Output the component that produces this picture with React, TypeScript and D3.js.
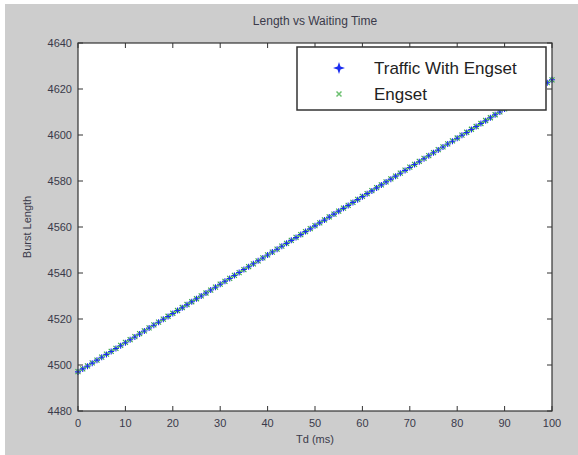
import React from "react";
import { scaleLinear } from "d3";

// Td (ms) sample points
const tdValues = [
  0, 1, 2, 3, 4, 5, 6, 7, 8, 9, 10, 11, 12, 13, 14, 15, 16, 17, 18, 19, 20,
  21, 22, 23, 24, 25, 26, 27, 28, 29, 30, 31, 32, 33, 34, 35, 36, 37, 38, 39, 40,
  41, 42, 43, 44, 45, 46, 47, 48, 49, 50, 51, 52, 53, 54, 55, 56, 57, 58, 59, 60,
  61, 62, 63, 64, 65, 66, 67, 68, 69, 70, 71, 72, 73, 74, 75, 76, 77, 78, 79, 80,
  81, 82, 83, 84, 85, 86, 87, 88, 89, 90, 91, 92, 93, 94, 95, 96, 97, 98, 99, 100,
];

// burst length, traffic with engset
const trafficLength = [
  4497.0, 4498.3, 4499.5, 4500.8, 4502.1, 4503.4, 4504.6, 4505.9, 4507.2, 4508.4,
  4509.7, 4511.0, 4512.2, 4513.5, 4514.8, 4516.1, 4517.3, 4518.6, 4519.9, 4521.1,
  4522.4, 4523.7, 4524.9, 4526.2, 4527.5, 4528.8, 4530.0, 4531.3, 4532.6, 4533.8,
  4535.1, 4536.4, 4537.6, 4538.9, 4540.2, 4541.5, 4542.7, 4544.0, 4545.3, 4546.5,
  4547.8, 4549.1, 4550.3, 4551.6, 4552.9, 4554.2, 4555.4, 4556.7, 4558.0, 4559.2,
  4560.5, 4561.8, 4563.0, 4564.3, 4565.6, 4566.9, 4568.1, 4569.4, 4570.7, 4571.9,
  4573.2, 4574.5, 4575.7, 4577.0, 4578.3, 4579.6, 4580.8, 4582.1, 4583.4, 4584.6,
  4585.9, 4587.2, 4588.4, 4589.7, 4591.0, 4592.3, 4593.5, 4594.8, 4596.1, 4597.3,
  4598.6, 4599.9, 4601.1, 4602.4, 4603.7, 4605.0, 4606.2, 4607.5, 4608.8, 4610.0,
  4611.3, 4612.6, 4613.8, 4615.1, 4616.4, 4617.7, 4618.9, 4620.2, 4621.5, 4622.7,
  4624.0,
];

// engset alone lies under the blue markers
const engsetLength = [
  4497.1, 4498.3, 4499.6, 4500.9, 4502.1, 4503.4, 4504.7, 4505.9, 4507.2, 4508.5,
  4509.8, 4511.0, 4512.3, 4513.6, 4514.8, 4516.1, 4517.4, 4518.6, 4519.9, 4521.2,
  4522.5, 4523.7, 4525.0, 4526.3, 4527.5, 4528.8, 4530.1, 4531.3, 4532.6, 4533.9,
  4535.2, 4536.4, 4537.7, 4539.0, 4540.2, 4541.5, 4542.8, 4544.0, 4545.3, 4546.6,
  4547.9, 4549.1, 4550.4, 4551.7, 4552.9, 4554.2, 4555.5, 4556.7, 4558.0, 4559.3,
  4560.6, 4561.8, 4563.1, 4564.4, 4565.6, 4566.9, 4568.2, 4569.4, 4570.7, 4572.0,
  4573.3, 4574.5, 4575.8, 4577.1, 4578.3, 4579.6, 4580.9, 4582.1, 4583.4, 4584.7,
  4586.0, 4587.2, 4588.5, 4589.8, 4591.0, 4592.3, 4593.6, 4594.8, 4596.1, 4597.4,
  4598.7, 4599.9, 4601.2, 4602.5, 4603.7, 4605.0, 4606.3, 4607.5, 4608.8, 4610.1,
  4611.4, 4612.6, 4613.9, 4615.2, 4616.4, 4617.7, 4619.0, 4620.2, 4621.5, 4622.8,
  4624.0,
];

const xTicks = [0, 10, 20, 30, 40, 50, 60, 70, 80, 90, 100];
const yTicks = [4480, 4500, 4520, 4540, 4560, 4580, 4600, 4620, 4640];
const legendLabels = ["Traffic With Engset", "Engset"];

const W = 578;
const H = 455;
const left = 78, right = 552, top = 43, bottom = 411;
const font = "Liberation Sans, Arial, sans-serif";
const axisColor = "#333";
const textColor = "#3a3a4a";

const App = () => {
  const x = scaleLinear().domain([0, 100]).range([left, right]);
  const y = scaleLinear().domain([4480, 4640]).range([bottom, top]);
  const tk = 5;

  return (
    <div style={{ position: "absolute", left: 0, top: 0 }}>
      <svg width={W} height={H} style={{ display: "block" }}>
        <rect x={0} y={0} width={W} height={H} fill="#fff" />
        <rect x={5} y={4} width={W - 5} height={H - 4} fill="#cdcdcd" />
        <rect x={left} y={top} width={right - left} height={bottom - top} fill="#fff" />

        <text x={(left + right) / 2} y={25} textAnchor="middle" fontFamily={font} fontSize={12} fill={textColor}>
          Length vs Waiting Time
        </text>

        {/* engset markers (x) */}
        <g stroke="#3aa84a" strokeWidth={1.1}>
          {tdValues.map((t, i) => {
            const cx = x(t), cy = y(engsetLength[i]);
            return (
              <path key={i} d={`M${cx - 2.5},${cy - 2.5}L${cx + 2.5},${cy + 2.5}M${cx - 2.5},${cy + 2.5}L${cx + 2.5},${cy - 2.5}`} />
            );
          })}
        </g>
        {/* traffic with engset markers (+) */}
        <g stroke="#1a2cf0" strokeWidth={1.1}>
          {tdValues.map((t, i) => {
            const cx = x(t), cy = y(trafficLength[i]);
            return <path key={i} d={`M${cx - 3},${cy}L${cx + 3},${cy}M${cx},${cy - 3}L${cx},${cy + 3}`} />;
          })}
        </g>

        {/* ticks on all sides */}
        <g stroke={axisColor} strokeWidth={1}>
          {xTicks.map((t) => (
            <g key={t}>
              <line x1={x(t)} x2={x(t)} y1={bottom} y2={bottom - tk} />
              <line x1={x(t)} x2={x(t)} y1={top} y2={top + tk} />
            </g>
          ))}
          {yTicks.map((t) => (
            <g key={t}>
              <line x1={left} x2={left + tk} y1={y(t)} y2={y(t)} />
              <line x1={right} x2={right - tk} y1={y(t)} y2={y(t)} />
            </g>
          ))}
        </g>
        <rect x={left} y={top} width={right - left} height={bottom - top} fill="none" stroke={axisColor} strokeWidth={1.2} />

        <g fontFamily={font} fontSize={11} fill={textColor}>
          {xTicks.map((t) => (
            <text key={t} x={x(t)} y={bottom + 16} textAnchor="middle">{t}</text>
          ))}
          {yTicks.map((t) => (
            <text key={t} x={left - 6} y={y(t) + 4} textAnchor="end">{t}</text>
          ))}
        </g>

        <text x={(left + right) / 2} y={443} textAnchor="middle" fontFamily={font} fontSize={11} fill={textColor}>
          Td (ms)
        </text>
        <text transform={`translate(31,${(top + bottom) / 2}) rotate(-90)`} textAnchor="middle" fontFamily={font} fontSize={11} fill={textColor}>
          Burst Length
        </text>

        {/* legend */}
        <g>
          <rect x={297} y={47} width={249} height={63} fill="#fff" stroke="#333" strokeWidth={1.5} />
          {legendLabels.map((lab, i) => {
            const ly = 68 + i * 26;
            return (
              <g key={lab}>
                {i === 0 ? (
                  <path
                    d={`M${339 - 6},${ly}L${339 - 1.5},${ly - 1.5}L339,${ly - 6}L${339 + 1.5},${ly - 1.5}L${339 + 6},${ly}L${339 + 1.5},${ly + 1.5}L339,${ly + 6}L${339 - 1.5},${ly + 1.5}Z`}
                    fill="#1a2cf0"
                  />
                ) : (
                  <path d={`M336.5,${ly - 2.5}L341.5,${ly + 2.5}M336.5,${ly + 2.5}L341.5,${ly - 2.5}`} stroke="#6cc070" strokeWidth={1.5} />
                )}
                <text x={374} y={ly + 6} fontFamily={font} fontSize={17} fill="#222">{lab}</text>
              </g>
            );
          })}
        </g>
      </svg>
    </div>
  );
};

export default App;
